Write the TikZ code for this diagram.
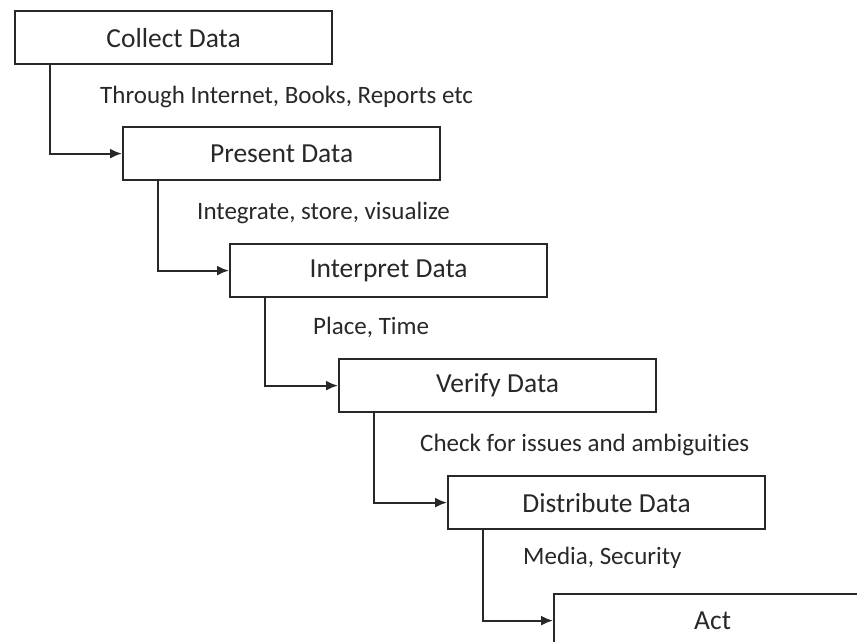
\documentclass[tikz,border=0pt]{standalone}
\usepackage{fontspec}
\setmainfont{Carlito}[Ligatures=NoCommon]
\usetikzlibrary{arrows.meta,calc}
\definecolor{ink}{RGB}{40,40,40}

\begin{document}
\begin{tikzpicture}[x=1pt, y=-1pt,
    stagebox/.style={draw=ink, line width=2.2pt, minimum width=317pt, minimum height=53pt,
      inner sep=0pt, anchor=north west, text=ink, font=\fontsize{27.5}{32}\selectfont},
    note/.style={anchor=west, inner sep=0pt, text=ink, font=\fontsize{25}{30}\selectfont},
    flow/.style={draw=ink, line width=2pt, -{Latex[length=12pt,width=10pt]}}]
    % page frame
    \clip (0,0) rectangle (857,641);

    % stage boxes, stepping down to the right
    \foreach \name/\bx/\by [count=\i] in {
      Collect Data/14/10,
      Present Data/122/126,
      Interpret Data/229/243,
      Verify Data/338/358,
      Distribute Data/447/475,
      Act/553/593} {
        \node[stagebox] (b\i) at (\bx,\by) {\name};
      }

    % elbow connectors from each box to the next
    \foreach \i [evaluate=\i as \j using int(\i+1)] in {1,...,5} {
      \draw[flow] ($(b\i.south west)+(36,0)$) |- (b\j.west);
    }

    % notes between the boxes
    \foreach \txt/\lx/\ly [count=\n] in {
      {Through Internet, Books, Reports etc}/100/97,
      {Integrate, store, visualize}/197/213,
      {Place, Time}/313/327,
      {Check for issues and ambiguities}/420/445,
      {Media, Security}/523/558} {
        \node[note] (n\n) at (\lx,\ly) {\txt};
      }
  \end{tikzpicture}
\end{document}
